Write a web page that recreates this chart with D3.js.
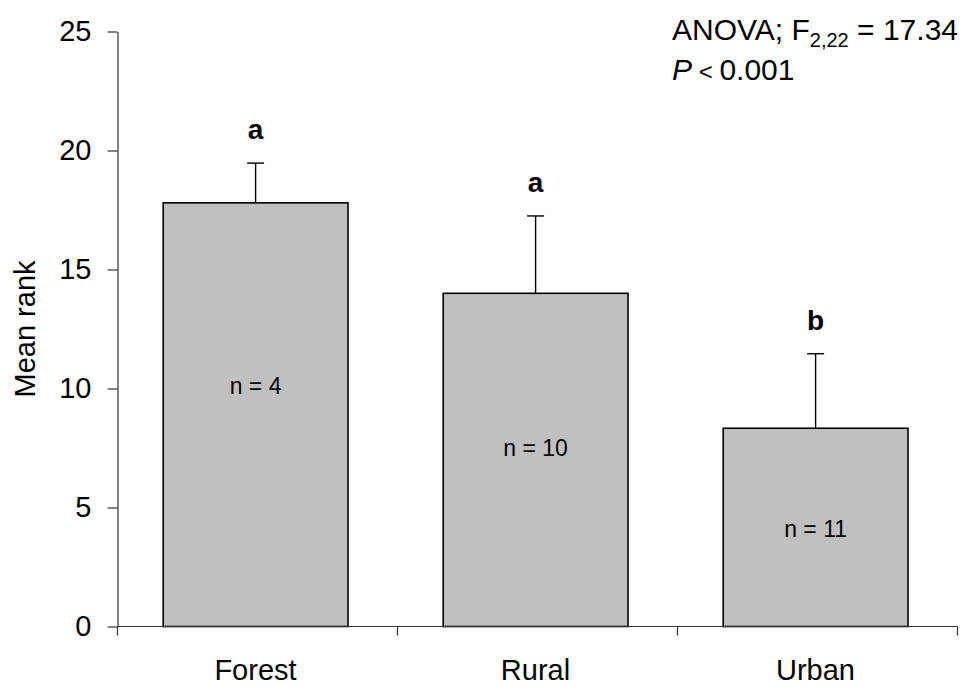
<!DOCTYPE html>
<html>
<head>
<meta charset="utf-8">
<script src="https://cdn.jsdelivr.net/npm/d3@7"></script>
<style>
  body { margin: 0; background: #fff; }
  svg text { font-family: "Liberation Sans", Arial, sans-serif; fill: #000; }
</style>
</head>
<body>
<svg id="chart" width="967" height="690"></svg>
<script>
// data
var sites = ["Forest", "Rural", "Urban"];
var meanRank = [17.8, 14.0, 8.33];
var errUpper = [19.47, 17.25, 11.46];
var groupLetter = ["a", "a", "b"];
var sampleSize = [4, 10, 11];
var sampleLabelAt = [10.1, 7.5, 4.1];   // where the n = labels sit, in rank units
var yTicks = [0, 5, 10, 15, 20, 25];

var svg = d3.select("#chart");
var plotL = 117.5, plotR = 957.5, plotT = 31.5, plotB = 626.5;

var y = d3.scaleLinear().domain([0, 25]).range([plotB, plotT]);
var xBand = d3.scaleBand().domain(sites).range([plotL, plotR]);
var x = d3.scaleBand().domain(sites).range([plotL, plotR])
    .paddingInner(0.34).paddingOuter(0.17).align(0.48);

// y axis
var yAxis = svg.append("g")
    .attr("transform", "translate(" + plotL + ",0)")
    .call(d3.axisLeft(y).tickValues(yTicks).tickSize(10).tickSizeOuter(0).tickPadding(16));
yAxis.select(".domain").attr("stroke", "#333").attr("stroke-width", 1.2);
yAxis.selectAll(".tick line").attr("stroke", "#333").attr("stroke-width", 1.2);
yAxis.selectAll(".tick text")
    .style("font-size", "29px")
    .style("font-family", "'Liberation Sans', Arial, sans-serif");

// bars
svg.selectAll("rect.bar")
    .data(sites)
    .enter().append("rect")
    .attr("class", "bar")
    .attr("x", function(d){ return x(d); })
    .attr("width", x.bandwidth())
    .attr("y", function(d, i){ return y(meanRank[i]); })
    .attr("height", function(d, i){ return y(0) - y(meanRank[i]); })
    .attr("fill", "#c0c0c0")
    .attr("stroke", "#000")
    .attr("stroke-width", 1.6);

// error bars (upper only)
var cx = function(d){ return x(d) + x.bandwidth() / 2; };
svg.selectAll("line.err")
    .data(sites)
    .enter().append("line")
    .attr("x1", cx).attr("x2", cx)
    .attr("y1", function(d, i){ return y(meanRank[i]); })
    .attr("y2", function(d, i){ return y(errUpper[i]); })
    .attr("stroke", "#000").attr("stroke-width", 1.4);
svg.selectAll("line.cap")
    .data(sites)
    .enter().append("line")
    .attr("x1", function(d){ return cx(d) - 8.5; })
    .attr("x2", function(d){ return cx(d) + 8.5; })
    .attr("y1", function(d, i){ return y(errUpper[i]); })
    .attr("y2", function(d, i){ return y(errUpper[i]); })
    .attr("stroke", "#000").attr("stroke-width", 1.4);

// significance letters
svg.selectAll("text.letter")
    .data(sites)
    .enter().append("text")
    .attr("x", cx)
    .attr("y", function(d, i){ return y(errUpper[i]) - 24; })
    .attr("text-anchor", "middle")
    .style("font-size", "28px")
    .style("font-weight", "bold")
    .text(function(d, i){ return groupLetter[i]; });

// n = labels inside bars
svg.selectAll("text.n")
    .data(sites)
    .enter().append("text")
    .attr("x", cx)
    .attr("y", function(d, i){ return y(sampleLabelAt[i]); })
    .attr("dy", "0.35em")
    .attr("text-anchor", "middle")
    .style("font-size", "23px")
    .text(function(d, i){ return "n = " + sampleSize[i]; });

// x axis: line, ticks at group boundaries, labels at centres
svg.append("line")
    .attr("x1", plotL).attr("x2", plotR)
    .attr("y1", plotB).attr("y2", plotB)
    .attr("stroke", "#333").attr("stroke-width", 1.2);
var bounds = sites.map(function(d){ return xBand(d); }).concat([plotR]);
svg.selectAll("line.xtick")
    .data(bounds)
    .enter().append("line")
    .attr("x1", function(d){ return d; }).attr("x2", function(d){ return d; })
    .attr("y1", plotB).attr("y2", plotB + 9)
    .attr("stroke", "#333").attr("stroke-width", 1.2);
svg.selectAll("text.xlab")
    .data(sites)
    .enter().append("text")
    .attr("x", function(d){ return xBand(d) + xBand.bandwidth() / 2 - 2; })
    .attr("y", 680)
    .attr("text-anchor", "middle")
    .style("font-size", "29px")
    .text(function(d){ return d; });

// y title
svg.append("text")
    .attr("transform", "translate(35," + ((plotT + plotB) / 2) + ") rotate(-90)")
    .attr("text-anchor", "middle")
    .style("font-size", "29px")
    .text("Mean rank");

// stats annotation
var stat = svg.append("text").attr("x", 672).attr("y", 40).style("font-size", "30px");
stat.append("tspan").text("ANOVA; F");
stat.append("tspan").attr("dy", 7).style("font-size", "20px").text("2,22");
stat.append("tspan").attr("dy", -7).text(" = 17.34");

var pv = svg.append("text").attr("x", 672).attr("y", 80).style("font-size", "30px");
pv.append("tspan").style("font-style", "italic").text("P");
pv.append("tspan").style("font-size", "24px").text(" < ");
pv.append("tspan").text("0.001");
</script>
</body>
</html>
